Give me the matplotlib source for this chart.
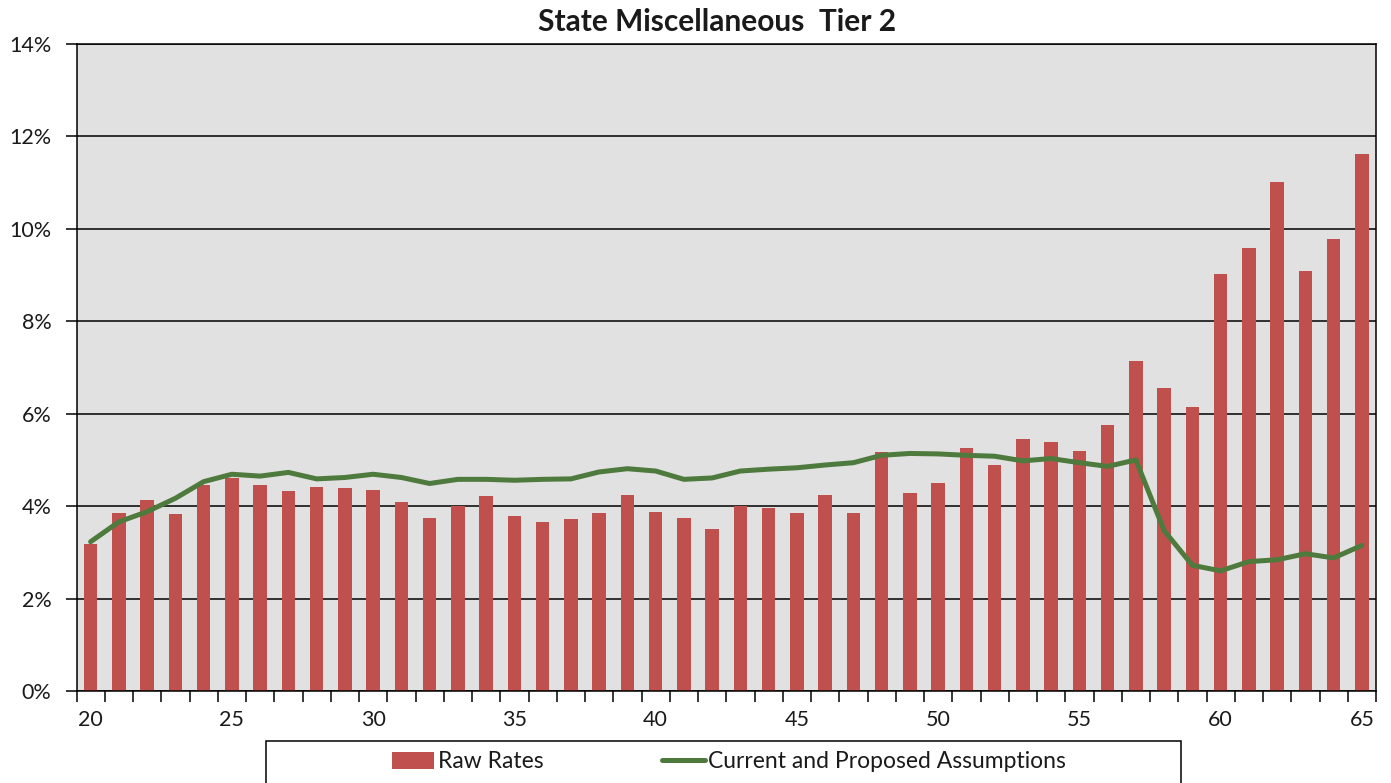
import matplotlib as mpl
mpl.use("Agg")
import matplotlib.pyplot as plt
from matplotlib.patches import Rectangle
from matplotlib.ticker import FuncFormatter, MultipleLocator, FixedLocator

FONT = ["Lato", "DejaVu Sans"]
plt.rcParams["font.family"] = FONT

RED = "#C0504D"
GREEN = "#4E7A3E"
PANEL = "#E1E1E1"
INK = "#000000"
TEXT = "#1a1a1a"

# ages 20..65
ages = list(range(20, 66))

raw_rates = [
    3.18, 3.86, 4.13, 3.82, 4.45, 4.60, 4.46, 4.33, 4.42, 4.40,
    4.36, 4.09, 3.75, 4.00, 4.22, 3.78, 3.65, 3.72, 3.85, 4.25,
    3.88, 3.75, 3.51, 4.00, 3.96, 3.86, 4.25, 3.86, 5.17, 4.29,
    4.49, 5.25, 4.88, 5.46, 5.39, 5.19, 5.76, 7.15, 6.55, 6.14,
    9.02, 9.59, 11.01, 9.08, 9.77, 11.63,
]

assumptions = [
    3.23, 3.66, 3.88, 4.17, 4.53, 4.69, 4.65, 4.73, 4.59, 4.62,
    4.69, 4.62, 4.49, 4.58, 4.58, 4.56, 4.58, 4.59, 4.74, 4.81,
    4.76, 4.58, 4.61, 4.76, 4.80, 4.83, 4.89, 4.94, 5.10, 5.14,
    5.13, 5.10, 5.08, 4.98, 5.03, 4.94, 4.86, 5.00, 3.47, 2.72,
    2.60, 2.80, 2.84, 2.97, 2.88, 3.15,
]

x_labels = [20, 25, 30, 35, 40, 45, 50, 55, 60, 65]

W, H = 1391, 783
fig = plt.figure(figsize=(W / 100, H / 100), dpi=100)
fig.patch.set_facecolor("white")
ax = fig.add_axes([76.5 / W, 1 - 691 / H, (1376 - 76.5) / W, (691 - 44) / H])
ax.set_facecolor(PANEL)

bars = ax.bar(ages, raw_rates, width=0.47, color=RED, label="Raw Rates", zorder=2)
line, = ax.plot(ages, assumptions, color=GREEN, lw=3.6, solid_capstyle="round",
                label="Current and Proposed Assumptions", zorder=3)

ax.set_xlim(19.5, 65.5)
ax.set_ylim(0, 14)

ax.yaxis.set_major_locator(MultipleLocator(2))
ax.yaxis.set_major_formatter(FuncFormatter(lambda v, p: f"{v:.0f}%"))
ax.grid(axis="y", color=INK, lw=1.1, zorder=1)
ax.set_axisbelow(True)

ax.xaxis.set_major_locator(FixedLocator(x_labels))
ax.xaxis.set_minor_locator(FixedLocator([a - 0.5 for a in ages] + [65.5]))
ax.tick_params(axis="x", which="major", length=0, pad=14, labelsize=15.5, labelcolor=TEXT)
ax.tick_params(axis="x", which="minor", length=8, width=1.1, color=INK, direction="out")
ax.tick_params(axis="y", length=8, width=1.1, color=INK, pad=10, labelsize=15.5, labelcolor=TEXT)

for side in ["left", "bottom", "right", "top"]:
    ax.spines[side].set_color(INK)
    ax.spines[side].set_linewidth(1.1)

fig.text(717 / W, 1 - 22 / H, "State Miscellaneous  Tier 2", ha="center", va="center",
         fontsize=21.5, fontweight="bold", color=TEXT)

# legend frame runs off the bottom edge, as in the source
fig.patches.append(Rectangle((266 / W, 1 - 800 / H), (1181 - 266) / W, (800 - 741) / H,
                             transform=fig.transFigure, facecolor="white",
                             edgecolor=INK, linewidth=1.1))
fig.legend([bars, line], ["Raw Rates", "Current and Proposed Assumptions"],
           loc="center", bbox_to_anchor=(729 / W, 1 - 762 / H), ncol=2, frameon=False,
           fontsize=16.5, handlelength=1.85, handletextpad=0.15, columnspacing=5.2,
           labelcolor=TEXT)

fig.savefig("out.png", dpi=100, facecolor="white")
